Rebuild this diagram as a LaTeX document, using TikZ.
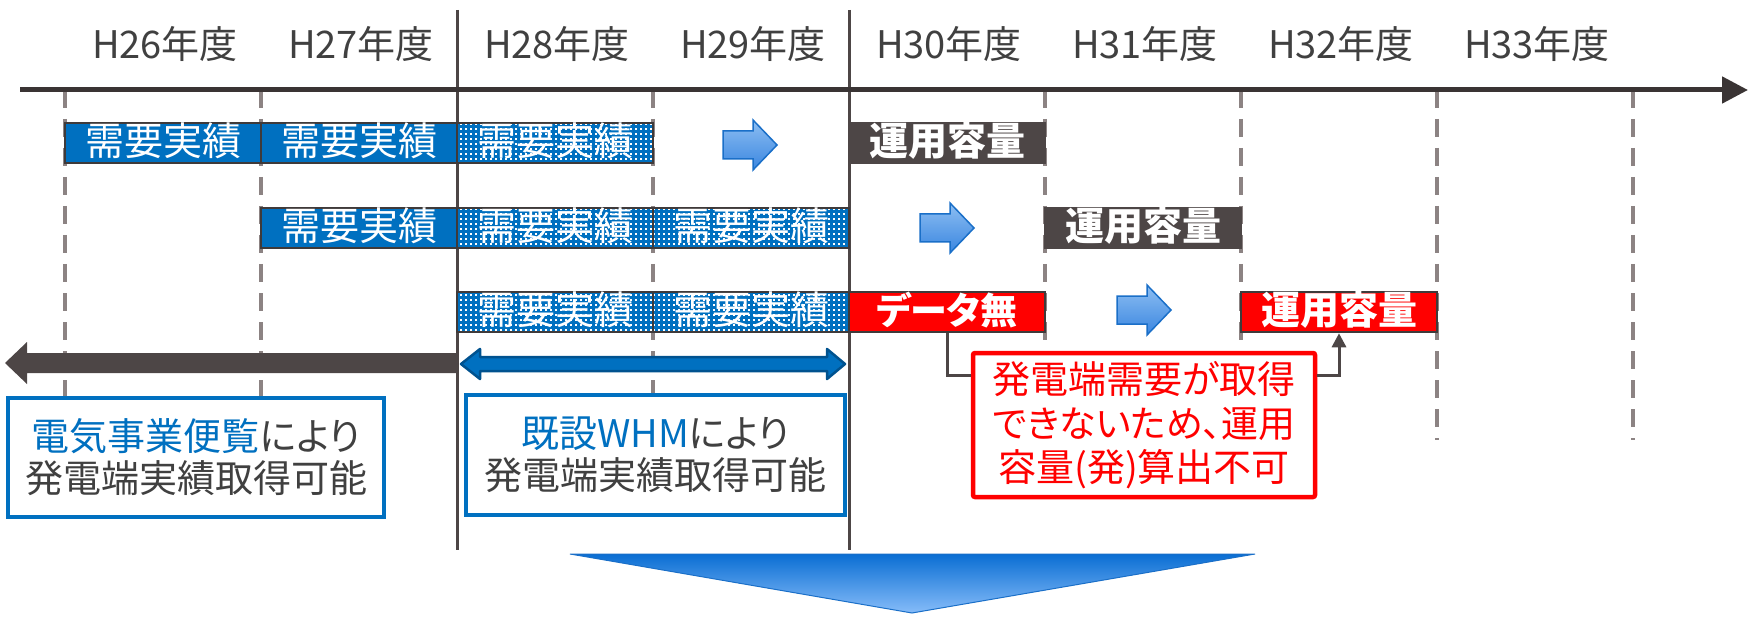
\documentclass[tikz,border=0pt]{standalone}
\usepackage{fontspec}
\setmainfont{Noto Sans CJK JP}[RawFeature=+palt]
\usetikzlibrary{arrows.meta,patterns.meta,calc}
\definecolor{cblue}{HTML}{0070C0}
\definecolor{cdark}{HTML}{4D4646}
\definecolor{cred}{HTML}{FF0000}
\definecolor{cline}{HTML}{3F3A3A}
\definecolor{caxis}{HTML}{3A3434}
\definecolor{cdash}{HTML}{8C8383}
\definecolor{ctext}{HTML}{404040}
\definecolor{cdblue}{HTML}{00528F}
\definecolor{agtop}{HTML}{8DBEF2}
\definecolor{agbot}{HTML}{3A86E0}
\definecolor{agdraw}{HTML}{1A6FC8}
\definecolor{bigtop}{HTML}{0A6ED3}
\definecolor{bigbot}{HTML}{86BCF9}
\tikzdeclarepattern{
  name=wdots, type=uncolored,
  bounding box={(0pt,0pt) and (4.5pt,4.5pt)},
  tile size={(4.5pt,4.5pt)},
  code={\pgfpathrectangle{\pgfqpoint{1.3pt}{1.3pt}}{\pgfqpoint{1.8pt}{1.8pt}}\pgfusepath{fill}}
}
\tikzset{
  cell/.style={rectangle, minimum width=196pt, minimum height=40pt, inner sep=0pt,
    text height=30pt, text depth=5pt,
    draw=cline, line width=2.5pt, text=white, font=\fontsize{39}{40}\selectfont},
  solidcell/.style={cell, fill=cblue},
  dotcell/.style={cell, preaction={fill=cblue}, pattern=wdots, pattern color=white},
  opcell/.style={cell, fill=cdark, draw=cdark, font=\fontsize{39}{40}\selectfont\bfseries},
  redcell/.style={cell, fill=cred, font=\fontsize{39}{40}\selectfont\bfseries},
  year/.style={text=ctext, font=\fontsize{38}{40}\selectfont, inner sep=0pt},
  infobox/.style={rectangle, draw=cblue, line width=4pt, fill=white, text=ctext,
    align=center, inner sep=0pt, font=\fontsize{38}{42}\selectfont},
  notebox/.style={rectangle, draw=cred, line width=4.5pt, fill=white, text=cred,
    rounded corners=2pt, align=center, inner sep=0pt, font=\fontsize{38}{44}\selectfont},
  conn/.style={draw=cdark, line width=3pt},
  blockarrow/.style={top color=agtop, bottom color=agbot, draw=agdraw, line width=1.5pt},
  dashline/.style={cdash, line width=3.5pt, dash pattern=on 18pt off 11pt},
  solidline/.style={cdark, line width=3pt}
}
\begin{document}
\begin{tikzpicture}[x=1pt,y=-1pt]
\useasboundingbox (0,0) rectangle (1758,620);
% grid lines
\foreach \x in {65,261,653,1045,1241,1437,1633}
  \draw[dashline] (\x,90) -- (\x,440);
\foreach \x in {457,849}
  \draw[solidline] (\x,10) -- (\x,550);
% time axis
\coordinate (axs) at (20,90);
\coordinate (axe) at (1748,90);
\draw[caxis, line width=5pt, -{Triangle[length=26pt,width=26pt]}] (axs) -- (axe);
% year labels
\foreach \n [count=\i from 0] in {26,...,33}
  \node[year] (y\n) at (165+196*\i,44) {H\n{}年度};
% row 1
\node[solidcell] (r1a) at (163,143) {需要実績};
\node[solidcell] (r1b) at (359,143) {需要実績};
\node[dotcell]   (r1c) at (555,143) {需要実績};
\node[opcell]    (r1op) at (947,143) {運用容量};
% row 2
\node[solidcell] (r2a) at (359,228) {需要実績};
\node[dotcell]   (r2b) at (555,228) {需要実績};
\node[dotcell]   (r2c) at (751,228) {需要実績};
\node[opcell]    (r2op) at (1143,228) {運用容量};
% row 3
\node[dotcell]   (r3a) at (555,312) {需要実績};
\node[dotcell]   (r3b) at (751,312) {需要実績};
\node[redcell, font=\fontsize{37}{40}\selectfont\bfseries] (r3nd) at (947,312) {データ無};
\node[redcell]   (r3op) at (1339,312) {運用容量};
% small block arrows
\foreach \x/\y in {723/145, 920/228, 1117/310}
  \shade[blockarrow] (\x,\y-14) -- (\x+30,\y-14) -- (\x+30,\y-25) -- (\x+54,\y)
    -- (\x+30,\y+25) -- (\x+30,\y+14) -- (\x,\y+14) -- cycle;
% span arrows
\fill[cdark] (5,363) -- (27,342) -- (27,353) -- (457,353) -- (457,373) -- (27,373) -- (27,384) -- cycle;
\draw[fill=cblue, draw=cdblue, line width=2.5pt, line join=round]
  (461,364) -- (480,349) -- (480,357) -- (827,357) -- (827,349) -- (845,364)
  -- (827,379) -- (827,371) -- (480,371) -- (480,379) -- cycle;
% info boxes
\node[infobox, minimum width=376pt, minimum height=119pt] (info1) at (196,457.5)
  {\textcolor{cblue}{電気事業便覧}により\\発電端実績取得可能};
\node[infobox, minimum width=379pt, minimum height=120pt] (info2) at (655.5,455)
  {\textcolor{cblue}{既設WHM}により\\発電端実績取得可能};
% note
\node[notebox, minimum width=342pt, minimum height=144pt] (note) at (1144,425)
  {発電端需要が取得\\{\fontsize{37}{44}\selectfont できないため、運用}\\容量(発)算出不可};
\draw[conn] (r3nd.south) |- ($(note.north west)+(0,25)$);
\draw[conn, -{Triangle[length=14pt,width=14pt]}] ($(note.north east)+(0,25)$) -| (r3op.south);
% big bottom arrow
\shade[top color=bigtop, bottom color=bigbot, draw=agdraw, line width=1pt]
  (570,554) -- (1255,554) -- (912,613) -- cycle;
\end{tikzpicture}
\end{document}
